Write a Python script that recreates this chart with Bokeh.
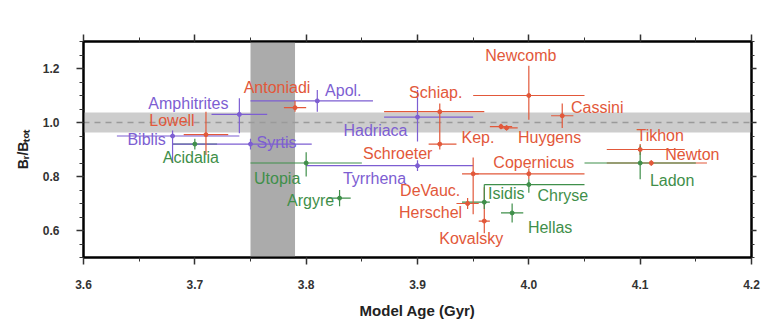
from bokeh.plotting import figure
from bokeh.models import (ColumnDataSource, Range1d, LinearAxis, BoxAnnotation, Span,
                          FixedTicker, PrintfTickFormatter, CustomJSTickFormatter)
from bokeh.embed import file_html
from bokeh.resources import INLINE
from bokeh.core.properties import value

# ---------------- data ----------------
names = ["Amphitrites", "Lowell", "Biblis", "Acidalia", "Syrtis", "Antoniadi", "Apol.",
         "Utopia", "Argyre", "Tyrrhena", "Hadriaca", "Schiap.", "Schroeter", "Newcomb",
         "Cassini", "Kep.", "Huygens", "Copernicus", "DeVauc.", "Herschel", "Kovalsky",
         "Isidis", "Chryse", "Hellas", "Tikhon", "Newton", "Ladon"]
groups = ["volcano", "crater", "volcano", "basin", "volcano", "crater", "volcano",
          "basin", "basin", "volcano", "volcano", "crater", "crater", "crater",
          "crater", "crater", "crater", "crater", "crater", "crater", "crater",
          "basin", "basin", "basin", "crater", "crater", "basin"]
age = [3.74, 3.71, 3.68, 3.70, 3.75, 3.79, 3.81, 3.80, 3.83, 3.90, 3.90, 3.92, 3.92, 4.00,
       4.03, 3.975, 3.98, 4.00, 3.95, 3.945, 3.96, 3.96, 4.00, 3.985, 4.10, 4.11, 4.10]
age_lo = [3.715, 3.69, 3.63, 3.68, 3.68, 3.78, 3.75, 3.75, 3.82, 3.80, 3.87, 3.87, 3.91, 3.95,
          4.02, 3.965, 3.975, 3.95, 3.94, 3.935, 3.955, 3.94, 3.96, 3.975, 4.07, 4.07, 4.05]
age_hi = [3.765, 3.73, 3.74, 3.72, 3.805, 3.80, 3.86, 3.85, 3.84, 3.95, 3.95, 3.96, 3.935, 4.05,
          4.04, 3.985, 3.99, 4.05, 3.955, 3.955, 3.965, 3.965, 4.05, 3.995, 4.14, 4.16, 4.15]
ratio = [1.03, 0.955, 0.95, 0.92, 0.92, 1.055, 1.08, 0.85, 0.72, 0.84, 1.02, 1.04, 0.92, 1.10,
         1.025, 0.985, 0.98, 0.81, 0.81, 0.70, 0.635, 0.705, 0.77, 0.665, 0.90, 0.85, 0.85]
ratio_lo = [0.96, 0.88, 0.85, 0.90, 0.90, 1.04, 1.04, 0.80, 0.69, 0.82, 0.93, 0.98, 0.90, 1.01,
            0.98, 0.975, 0.97, 0.79, 0.66, 0.68, 0.59, 0.68, 0.74, 0.63, 0.88, 0.84, 0.79]
ratio_hi = [1.09, 1.04, 0.97, 0.94, 0.94, 1.08, 1.12, 0.89, 0.75, 0.86, 1.12, 1.07, 0.98, 1.21,
            1.07, 0.995, 0.99, 0.83, 0.87, 0.72, 0.76, 0.77, 0.79, 0.70, 0.92, 0.86, 0.915]

x_ticks = [3.6, 3.7, 3.8, 3.9, 4.0, 4.1, 4.2]
y_ticks = [0.6, 0.8, 1.0, 1.2]

# ---------------- styling (not data) ----------------
palette = {"crater": "#e2583a", "volcano": "#7d5ed2", "basin": "#3f8f4a"}
label_offsets = [(-51, -11), (-34, -14), (-26, 3), (-4, 13), (26, -2), (-18, -20), (26, -10),
                 (-29, 15), (-29, 2), (-43, 13), (-42, 13), (-4, -19), (-42, 9), (-8, -40),
                 (35, -8), (-23, 11), (43, 10), (5, -11), (-43, 17), (-37, 9), (-13, 17),
                 (22, -9), (34, 11), (38, 15), (20, -14), (41, -9), (32, 17)]

src = ColumnDataSource(dict(
    name=names, age=age, age_lo=age_lo, age_hi=age_hi,
    ratio=ratio, ratio_lo=ratio_lo, ratio_hi=ratio_hi,
    color=[palette[g] for g in groups],
    dx=[o[0] for o in label_offsets], dy=[o[1] for o in label_offsets],
))

p = figure(width=762, height=326, x_range=Range1d(3.6, 4.2), y_range=Range1d(0.5, 1.3),
           output_backend="svg", toolbar_location=None,
           min_border_left=83, min_border_right=11, min_border_top=41, min_border_bottom=69)
p.grid.visible = False
p.background_fill_color = "white"
p.border_fill_color = "white"
p.outline_line_color = "black"
p.outline_line_width = 2

# thin page frame seen around the reference picture
p.add_layout(BoxAnnotation(left=5, right=900, top=10, bottom=900,
                           left_units="canvas", right_units="canvas",
                           top_units="canvas", bottom_units="canvas",
                           fill_alpha=0, line_color="#f5c878", line_width=1.5))

# shaded references
p.add_layout(BoxAnnotation(bottom=0.963, top=1.037, fill_color="#cdcdcd", fill_alpha=1.0,
                           line_color=None, level="underlay"))
p.add_layout(BoxAnnotation(left=3.75, right=3.79, fill_color="#ababab", fill_alpha=1.0,
                           line_color=None, level="underlay"))
p.add_layout(Span(location=1.0, dimension="width", line_color="#9a9a9a", line_width=1.5,
                  line_dash="6 5", level="underlay"))

# error bars
p.segment(x0="age_lo", x1="age_hi", y0="ratio", y1="ratio", source=src,
          line_color="color", line_width=1.2)
p.segment(x0="age", x1="age", y0="ratio_lo", y1="ratio_hi", source=src,
          line_color="color", line_width=1.2)
p.scatter(x="age", y="ratio", source=src, size=4, fill_color="color", line_color="color")

p.text(x="age", y="ratio", text="name", source=src, x_offset="dx", y_offset="dy",
       text_align="center", text_baseline="middle", text_color="color",
       text_font=value("Liberation Sans"), text_font_size="16px")

# axes
def style_axis(ax):
    ax.axis_line_color = "black"
    ax.axis_line_width = 2
    ax.major_tick_line_color = "#333333"
    ax.minor_tick_line_color = "#333333"
    ax.major_tick_line_width = 1.5
    ax.major_tick_out = 7
    ax.major_tick_in = 0
    ax.minor_tick_out = 4
    ax.minor_tick_in = 0
    ax.major_label_text_font = "Liberation Sans"
    ax.major_label_text_font_style = "bold"
    ax.major_label_text_color = "#333333"
    ax.major_label_text_font_size = "12px"

x_minor = [round(3.6 + 0.05 * i, 2) for i in range(13)]
y_minor = [round(0.5 + 0.05 * i, 2) for i in range(17)]

for ax in p.xaxis:
    ax.ticker = FixedTicker(ticks=x_ticks, minor_ticks=x_minor)
    ax.formatter = PrintfTickFormatter(format="%.1f")
    style_axis(ax)
    ax.major_label_standoff = 15
    ax.axis_label = "Model Age (Gyr)"
    ax.axis_label_text_font = "Liberation Sans"
    ax.axis_label_text_font_style = "bold"
    ax.axis_label_text_font_size = "15px"
    ax.axis_label_text_color = "#222222"
    ax.axis_label_standoff = 10

for ax in p.yaxis:
    ax.ticker = FixedTicker(ticks=y_ticks, minor_ticks=y_minor)
    ax.formatter = PrintfTickFormatter(format="%.1f")
    style_axis(ax)
    ax.major_label_standoff = 17
    ax.axis_label = "Bᵣ/Bₜₒₜ"
    ax.axis_label_text_font = "Liberation Sans"
    ax.axis_label_text_font_style = "bold"
    ax.axis_label_text_font_size = "14px"
    ax.axis_label_text_color = "#222222"
    ax.axis_label_standoff = 9

blank = CustomJSTickFormatter(code="return '';")
top = LinearAxis(ticker=FixedTicker(ticks=x_ticks, minor_ticks=x_minor), formatter=blank)
style_axis(top)
top.major_label_standoff = 0
p.add_layout(top, "above")
right = LinearAxis(ticker=FixedTicker(ticks=y_ticks, minor_ticks=y_minor), formatter=blank)
style_axis(right)
right.major_label_standoff = 0
right.major_tick_out = 5
right.minor_tick_out = 3
p.add_layout(right, "right")

open("out.html", "w").write(file_html(p, INLINE))
